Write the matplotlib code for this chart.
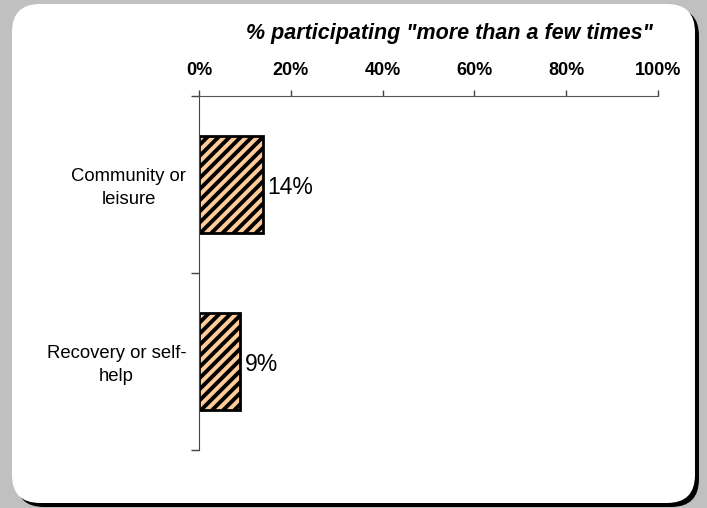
import matplotlib
matplotlib.use("Agg")
import matplotlib.pyplot as plt
from matplotlib.patches import FancyBboxPatch
from matplotlib.transforms import blended_transform_factory

plt.rcParams['font.family'] = ['Liberation Sans', 'DejaVu Sans']
plt.rcParams['hatch.color'] = '#333333'
plt.rcParams['hatch.linewidth'] = 2.8

categories = ["Community or\nleisure", "Recovery or self-\nhelp"]
values = [14, 9]
xticks = [0, 20, 40, 60, 80, 100]
xtick_labels = ["0%", "20%", "40%", "60%", "80%", "100%"]
title = '% participating "more than a few times"'

W, H = 707, 508
fig = plt.figure(figsize=(W / 100, H / 100), dpi=100)
fig.patch.set_facecolor('#c0c0c0')

# rounded panel with a dark drop shadow
bg = fig.add_axes([0, 0, 1, 1])
bg.set_xlim(0, W)
bg.set_ylim(0, H)
bg.axis('off')
bg.add_patch(FancyBboxPatch((16, 1), 683, 499,
                            boxstyle="round,pad=0,rounding_size=28",
                            facecolor='black', edgecolor='none'))
bg.add_patch(FancyBboxPatch((12, 5), 683, 499,
                            boxstyle="round,pad=0,rounding_size=28",
                            facecolor='white', edgecolor='none'))

left, right = 199 / W, 658 / W
top, bottom = 1 - 96 / H, 1 - 450 / H
ax = fig.add_axes([left, bottom, right - left, top - bottom])
ax.set_facecolor('none')

ypos = list(range(len(categories)))
ax.barh(ypos, values, height=0.55, color='#ffcc99', edgecolor='black',
        linewidth=2, hatch='///')

ax.set_xlim(0, 100)
ax.set_ylim(len(categories) - 0.5, -0.5)

ax.xaxis.tick_top()
ax.set_xticks(xticks)
ax.set_xticklabels(xtick_labels, fontsize=13, fontweight='bold')
ax.tick_params(axis='x', direction='out', length=4, width=1, color='#444444', pad=8)

bounds = [i - 0.5 for i in range(len(categories) + 1)]
ax.set_yticks(bounds)
ax.set_yticklabels([])
ax.tick_params(axis='y', direction='out', length=6, width=1, color='#444444')

for s in ['right', 'bottom']:
    ax.spines[s].set_visible(False)
ax.spines['top'].set_color('#555555')
ax.spines['left'].set_color('#444444')

tr = blended_transform_factory(ax.transAxes, ax.transData)
for y, lab in zip(ypos, categories):
    ax.text(-0.028, y + 0.02, lab, transform=tr, ha='right', va='center',
            multialignment='center', fontsize=13.3, linespacing=1.45)

for y, v in zip(ypos, values):
    ax.text(v + 0.9, y + 0.015, f"{v}%", ha='left', va='center', fontsize=16.5)

fig.text(449 / W, 1 - 33 / H, title, ha='center', va='center',
         fontsize=15.5, fontweight='bold', fontstyle='italic')

fig.savefig('out.png', dpi=100, facecolor=fig.get_facecolor())
